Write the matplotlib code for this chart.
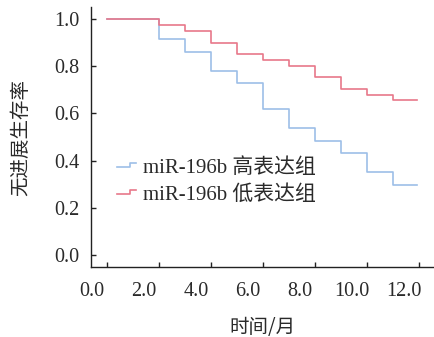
import matplotlib
matplotlib.use("Agg")
import matplotlib.pyplot as plt
import matplotlib.transforms as mtransforms
from matplotlib.lines import Line2D
from matplotlib.legend_handler import HandlerBase

# Data
time_months = [0, 2, 3, 4, 5, 6, 7, 8, 9, 10, 11, 11.9]
high_expr = [1.0, 0.914, 0.861, 0.781, 0.728, 0.620, 0.539, 0.484, 0.431, 0.350, 0.297, 0.297]
low_expr = [1.0, 0.973, 0.948, 0.900, 0.852, 0.826, 0.802, 0.754, 0.705, 0.679, 0.657, 0.657]
series_labels = ["miR-196b 高表达组", "miR-196b 低表达组"]
x_ticks = [0, 2, 4, 6, 8, 10, 12]
x_ticklabels = ["0.0", "2.0", "4.0", "6.0", "8.0", "10.0", "12.0"]
y_ticks = [0.0, 0.2, 0.4, 0.6, 0.8, 1.0]
y_ticklabels = ["0.0", "0.2", "0.4", "0.6", "0.8", "1.0"]

BLUE = "#9dbfe8"
RED = "#e8788a"
TXT = "#2a2a2a"
SERIF = ["Liberation Serif", "Noto Sans CJK SC"]
CJK = ["Noto Sans CJK SC", "DejaVu Sans"]
MIXED = ["Liberation Serif", "Noto Sans CJK SC"]


class StepHandler(HandlerBase):
    def create_artists(self, legend, orig_handle, xdescent, ydescent,
                       width, height, fontsize, trans):
        x0, x1 = -xdescent, -xdescent + width
        xm = x0 + 0.68 * width
        ylo = -ydescent + height * 0.38
        yhi = -ydescent + height * 0.66
        line = Line2D([x0, xm, xm, x1], [ylo, ylo, yhi, yhi],
                      color=orig_handle.get_color(),
                      linewidth=orig_handle.get_linewidth(),
                      transform=trans)
        return [line]


fig = plt.figure(figsize=(4.35, 3.37), dpi=100)
ax = fig.add_axes([0.2085, 0.2086, 0.7915, 0.7697])

l1, = ax.plot(time_months, high_expr, drawstyle="steps-post", color=BLUE, lw=1.2)
l2, = ax.plot(time_months, low_expr, drawstyle="steps-post", color=RED, lw=1.2)

ax.set_xlim(-0.625, 12.6)
ax.set_ylim(-0.05, 1.05)

for s in ["top", "right"]:
    ax.spines[s].set_visible(False)
for s in ["left", "bottom"]:
    ax.spines[s].set_linewidth(1.0)
    ax.spines[s].set_color("#222222")

ax.set_xticks(x_ticks)
ax.set_xticklabels(x_ticklabels, fontfamily=SERIF, fontsize=14.5, color=TXT)
ax.set_yticks(y_ticks)
ax.set_yticklabels(y_ticklabels, fontfamily=SERIF, fontsize=14.5, color=TXT)
ax.tick_params(axis="both", direction="in", length=3.5, width=1.0, color="#222222")
ax.tick_params(axis="x", pad=11)
ax.tick_params(axis="y", pad=8)

# shift x tick labels slightly left, as in the reference
shift = mtransforms.ScaledTranslation(-15 / 100, 0, fig.dpi_scale_trans)
for lab in ax.get_xticklabels():
    lab.set_transform(lab.get_transform() + shift)

ax.set_xlabel("时间/月", fontfamily=CJK, fontsize=14, color=TXT)
ax.set_ylabel("无进展生存率", fontfamily=CJK, fontsize=14, color=TXT)
ax.xaxis.set_label_coords(0.5, -0.194)
ax.yaxis.set_label_coords(-0.173, 0.5)

ax.legend([l1, l2], series_labels, handler_map={Line2D: StepHandler()},
          loc="center left", bbox_to_anchor=(0.076, 0.33), frameon=False,
          borderpad=0, borderaxespad=0,
          prop={"family": MIXED, "size": 15}, handlelength=0.9,
          handletextpad=0.35, labelspacing=0.35, labelcolor=TXT)

fig.savefig("out.png", dpi=100)
